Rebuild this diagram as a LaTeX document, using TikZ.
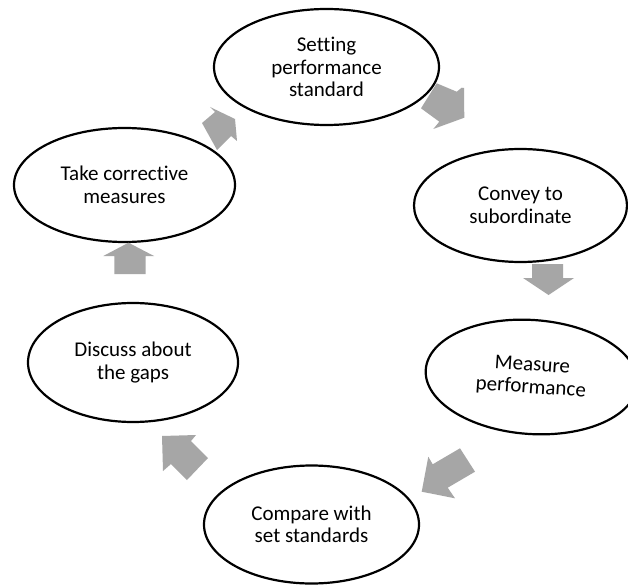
\documentclass[tikz,border=0pt]{standalone}
\usepackage{fontspec}
\setmainfont{Carlito}[Ligatures=NoCommon]
\usetikzlibrary{shapes.geometric}
\definecolor{arrowgray}{RGB}{166,166,166}
\begin{document}
\begin{tikzpicture}[x=1pt,y=-1pt,
  stage/.style={ellipse, draw=black, line width=2.2pt, fill=white, inner sep=0pt,
    align=center, font=\fontsize{21}{22.5}\selectfont},
  blockarrow/.style={fill=arrowgray, draw=none}]
\useasboundingbox (0,0) rectangle (628,585);
\clip (0,0) rectangle (628,585);
\fill[white] (0,0) rectangle (628,585);
% stages
\node[stage, minimum width=225pt, minimum height=116pt] (setting) at (326.5,67) {Setting\\performance\\standard};
\node[stage, minimum width=213pt, minimum height=113pt] (convey) at (520.5,205.5) {Convey to\\subordinate};
\node[stage, minimum width=212pt, minimum height=114pt, rotate=-4] (measure) at (531.5,377) {Measure\\performance};
\node[stage, minimum width=215pt, minimum height=118pt] (compare) at (311.5,524.5) {Compare with\\set standards};
\node[stage, minimum width=210pt, minimum height=119pt] (discuss) at (133,362.5) {Discuss about\\the gaps};
\node[stage, minimum width=221pt, minimum height=114pt] (corrective) at (124.5,185) {Take corrective\\measures};
% block arrows
\fill[blockarrow] (436.7,83.3) -- (456.7,91.7) -- (461.7,87.7) -- (464,88) -- (464.3,117.7) -- (433.3,129) -- (439.3,121.7) -- (421,108.3) -- cycle;
\fill[blockarrow] (532,264) -- (563,264) -- (563,278) -- (574,278) -- (548.5,295) -- (523,278) -- (532,278) -- cycle;
\fill[blockarrow] (460,448.3) -- (475,471.7) -- (447.7,487.7) -- (455,498.3) -- (421.7,491.7) -- (428.3,456.7) -- (432.7,464.3) -- cycle;
\fill[blockarrow] (162,436) -- (196,435) -- (191,441) -- (208,458) -- (187,480) -- (171,464) -- (163,471) -- cycle;
\fill[blockarrow] (114.3,274) -- (145.7,274) -- (145.7,256) -- (154,256) -- (128.5,242.7) -- (103.3,256) -- (114.3,256) -- cycle;
\fill[blockarrow] (210,107) -- (235,119) -- (237,141) -- (231,136) -- (217,150) -- (202,123) -- (215,112) -- cycle;
\end{tikzpicture}
\end{document}
